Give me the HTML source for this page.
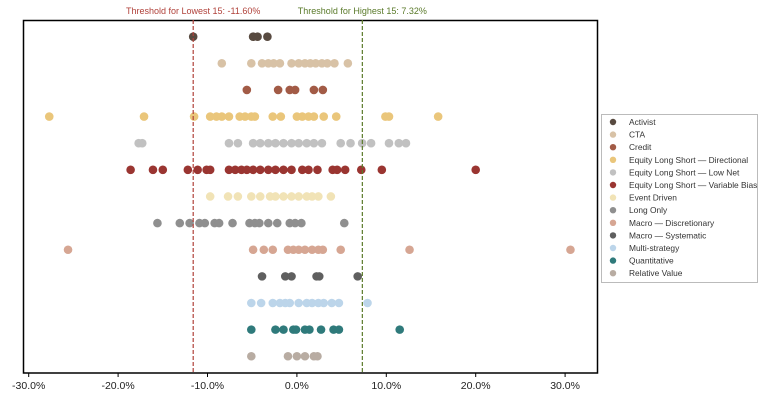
<!DOCTYPE html>
<html><head><meta charset="utf-8"><style>
body{margin:0;background:#fff;width:769px;height:410px;overflow:hidden;font-family:"Liberation Sans",sans-serif}
</style></head><body>
<svg id="c" width="769" height="410" xmlns="http://www.w3.org/2000/svg"></svg>
<script>
const categories=["Activist","CTA","Credit","Equity Long Short — Directional","Equity Long Short — Low Net","Equity Long Short — Variable Bias","Event Driven","Long Only","Macro — Discretionary","Macro — Systematic","Multi-strategy","Quantitative","Relative Value"];
const colors=["#584a40","#d8c2a6","#a25b46","#eac67b","#c1c1c1","#9a3531","#f1e3b6","#8f8f8f","#d6a693","#5f5f5f","#bcd5ea","#2f7a7b","#b8aca2"];
const sActivist=[-11.6,-4.9,-4.4,-3.3];
const sCTA=[-8.4,-5.1,-3.9,-3.2,-2.6,-1.9,-0.6,0.2,0.9,1.5,2.1,2.8,3.4,4.2,5.7];
const sCredit=[-5.6,-2.1,-0.8,-0.2,1.9,2.9];
const sDir=[-27.7,-17.1,-11.5,-9.7,-9.0,-8.4,-7.6,-6.4,-5.8,-5.1,-4.7,-2.7,-1.8,0,0.6,1.3,1.9,3.0,4.4,9.9,10.3,15.8];
const sLowNet=[-17.7,-17.3,-7.6,-6.6,-4.9,-4.1,-3.2,-2.4,-1.5,-0.6,0.2,1.1,1.9,2.8,4.9,6.0,7.3,8.3,10.3,11.4,12.2];
const sVarBias=[-18.6,-16.1,-15.0,-12.2,-11.1,-10.1,-9.7,-7.6,-6.9,-6.2,-5.6,-4.9,-4.1,-3.2,-2.4,-1.5,-0.6,0.6,1.3,2.3,4.0,4.5,5.4,7.2,9.5,20.0];
const sEvent=[-9.7,-7.7,-6.6,-5.1,-4.1,-3.0,-2.4,-1.5,-0.6,0.2,1.1,1.7,2.4,3.8];
const sLongOnly=[-15.6,-13.1,-12.0,-10.9,-10.3,-9.2,-8.7,-7.2,-5.3,-4.7,-4.2,-3.2,-2.2,-0.8,-0.2,0.5,5.3];
const sMacroDisc=[-25.6,-4.9,-3.7,-2.7,-1.0,-0.4,0.2,0.9,1.7,2.4,2.9,4.9,12.6,30.6];
const sMacroSys=[-3.9,-1.3,-0.6,2.2,2.5,6.8];
const sMulti=[-5.1,-4.0,-2.7,-1.9,-1.3,-0.8,0.2,1.1,1.7,2.4,3.0,3.9,4.7,7.9];
const sQuant=[-5.1,-2.4,-1.5,-0.4,-0.1,0.9,1.4,2.7,4.1,4.7,11.5];
const sRV=[-5.1,-1.0,0.0,0.9,1.9,2.3];
const series=[sActivist,sCTA,sCredit,sDir,sLowNet,sVarBias,sEvent,sLongOnly,sMacroDisc,sMacroSys,sMulti,sQuant,sRV];
const ticks=[-30,-20,-10,0,10,20,30];
const thresholdLow=-11.60, thresholdHigh=7.32;

const NS="http://www.w3.org/2000/svg", svg=document.getElementById('c');
const X=v=>296.9+v*8.94;
const Y=i=>36.7+i*26.63;
function mk(t,a,p){const e=document.createElementNS(NS,t);for(const k in a)e.setAttribute(k,a[k]);(p||svg).appendChild(e);return e;}

const frame=mk('rect',{x:23.5,y:20.5,width:574,height:352.5,fill:'none',stroke:'#000','stroke-width':1.5});



ticks.forEach(t=>{
  const l=mk('line',{x1:X(t),x2:X(t),y1:373,y2:377,stroke:'#000'});
  
  
  const tx=mk('text',{x:X(t),y:389,'text-anchor':'middle','font-size':10.5,fill:'#222'});
  tx.textContent=t.toFixed(1)+'%';
  
  
});

series.forEach((s,i)=>{
  s.forEach(v=>{
    const c=mk('circle',{cx:X(v),cy:Y(i),r:4.3,fill:colors[i]});
    
    
  });
});

[[thresholdLow,'#b0413a','Threshold for Lowest 15: '],[thresholdHigh,'#5a7a2a','Threshold for Highest 15:  ']].forEach(([v,col,lab],k)=>{
  const l=mk('line',{x1:X(v),x2:X(v),y1:20,y2:373,stroke:col,'stroke-width':1.2,'stroke-dasharray':'4,2'});
  
  
  const t=mk('text',{x:X(v),y:14,'text-anchor':'middle','font-size':9,fill:col});
  t.textContent=lab+v.toFixed(2)+'%';
  
  
});

const lg=mk('g',{});


mk('rect',{x:601.5,y:114.5,width:156,height:168,fill:'#fff',stroke:'#bbb','stroke-width':1},lg);
categories.forEach((c,i)=>{
  const g=mk('g',{},lg);
  
  
  mk('circle',{cx:613,cy:122+i*12.6,r:3.2,fill:colors[i]},g);
  const t=mk('text',{x:629,y:125+i*12.6,'font-size':8.4,fill:'#333'},g);
  t.textContent=c;
});
</script>
</body></html>
